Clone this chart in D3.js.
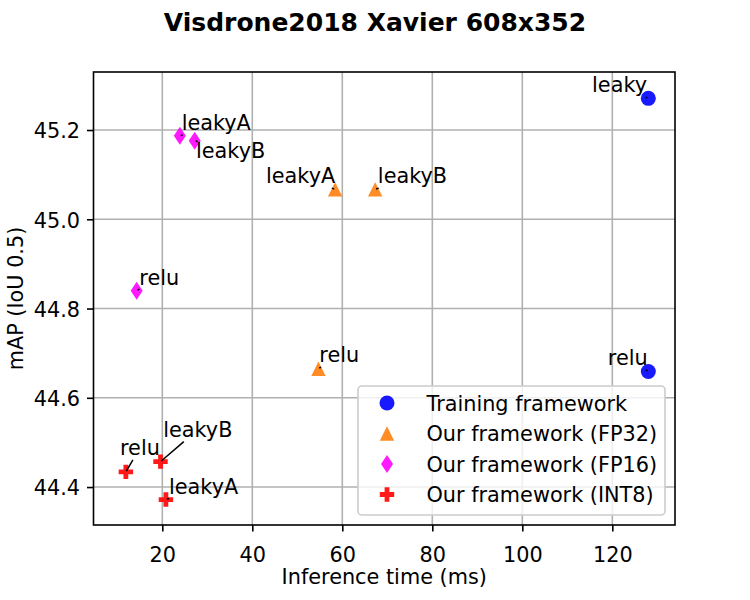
<!DOCTYPE html>
<html>
<head>
<meta charset="utf-8">
<script src="https://cdn.jsdelivr.net/npm/d3@7"></script>
<style>
  body { margin: 0; background: #fff; }
  svg text { font-family: "DejaVu Sans", sans-serif; fill: #000; }
</style>
</head>
<body>
<svg id="chart" width="750" height="600"></svg>
<script>
/* global d3 */

var seriesNames = ['Training framework', 'Our framework (FP32)', 'Our framework (FP16)', 'Our framework (INT8)'];
var xTicks = [20, 40, 60, 80, 100, 120];
var yTicks = [44.4, 44.6, 44.8, 45.0, 45.2];

// label, inference time (ms), mAP, and where the label text sits (ms, mAP)
var trainingLabels = ['leaky', 'relu'];
var trainingTime   = [128.0, 128.0];
var trainingMap    = [45.271, 44.659];
var trainingText   = [[115.5, 45.285], [119.0, 44.674]];

var fp32Labels = ['leakyA', 'leakyB', 'relu'];
var fp32Time   = [58.4, 67.3, 54.7];
var fp32Map    = [45.067, 45.067, 44.665];
var fp32Text   = [[43.05, 45.081], [67.9, 45.081], [54.9, 44.680]];

var fp16Labels = ['leakyA', 'leakyB', 'relu'];
var fp16Time   = [23.9, 27.2, 14.3];
var fp16Map    = [45.187, 45.176, 44.840];
var fp16Text   = [[24.3, 45.200], [27.5, 45.137], [14.9, 44.853]];

var int8Labels = ['relu', 'leakyB', 'leakyA'];
var int8Time   = [11.9, 19.6, 20.8];
var int8Map    = [44.434, 44.457, 44.372];
var int8Text   = [[10.6, 44.472], [20.2, 44.513], [21.5, 44.385]];

var svg = d3.select('svg#chart');
var box = { left: 93.5, right: 675, top: 72, bottom: 525 };
var fontSize = '20.8px';

var x = d3.scaleLinear().domain([4.71, 133.93]).range([box.left, box.right]);
var y = d3.scaleLinear().domain([44.315, 45.330]).range([box.bottom, box.top]);

function points(labels, time, map, text) {
  return labels.map(function (l, i) {
    return { label: l, t: time[i], m: map[i], tx: text[i][0], ty: text[i][1] };
  });
}

var series = [
  { name: seriesNames[0], color: '#0000ff', shape: 'circle',   pts: points(trainingLabels, trainingTime, trainingMap, trainingText) },
  { name: seriesNames[1], color: '#ff7f0e', shape: 'triangle', pts: points(fp32Labels, fp32Time, fp32Map, fp32Text) },
  { name: seriesNames[2], color: '#ff00ff', shape: 'diamond',  pts: points(fp16Labels, fp16Time, fp16Map, fp16Text) },
  { name: seriesNames[3], color: '#ff0000', shape: 'plus',     pts: points(int8Labels, int8Time, int8Map, int8Text) }
];

function markerPath(shape) {
  if (shape === 'circle')   { return d3.symbol(d3.symbolCircle, Math.PI * 7.5 * 7.5)(); }
  if (shape === 'triangle') { return 'M0,-7.2L-7.2,7.2L7.2,7.2Z'; }
  if (shape === 'diamond')  { return 'M0,-9L6,0L0,9L-6,0Z'; }
  var a = 7.2, b = 7.2 / 3;
  return 'M' + [[-b,-a],[b,-a],[b,-b],[a,-b],[a,b],[b,b],[b,a],[-b,a],[-b,b],[-a,b],[-a,-b],[-b,-b]].join('L') + 'Z';
}

// grid
var grid = svg.append('g').attr('stroke', '#b0b0b0').attr('stroke-width', 1.6);
grid.selectAll('.gx').data(xTicks).enter().append('line')
  .attr('x1', x).attr('x2', x).attr('y1', box.top).attr('y2', box.bottom);
grid.selectAll('.gy').data(yTicks).enter().append('line')
  .attr('y1', y).attr('y2', y).attr('x1', box.left).attr('x2', box.right);

// axes
var xAxis = svg.append('g')
  .attr('transform', 'translate(0,' + box.bottom + ')')
  .call(d3.axisBottom(x).tickValues(xTicks).tickFormat(d3.format('d')).tickSize(6.5).tickPadding(16).tickSizeOuter(0));
xAxis.selectAll('text').attr('dy', '0.71em');

var yAxis = svg.append('g')
  .attr('transform', 'translate(' + box.left + ',0)')
  .call(d3.axisLeft(y).tickValues(yTicks).tickFormat(d3.format('.1f')).tickSize(6.5).tickPadding(7).tickSizeOuter(0));
yAxis.selectAll('text').attr('dy', '0.38em');

svg.selectAll('.tick text').attr('font-size', fontSize).attr('fill', '#000');
svg.selectAll('.tick line').attr('stroke', '#000').attr('stroke-width', 1.6);
svg.selectAll('.domain').remove();

svg.append('rect')
  .attr('x', box.left).attr('y', box.top)
  .attr('width', box.right - box.left).attr('height', box.bottom - box.top)
  .attr('fill', 'none').attr('stroke', '#000').attr('stroke-width', 1.6);

// markers
series.forEach(function (s) {
  svg.append('g').selectAll('path').data(s.pts).enter().append('path')
    .attr('d', markerPath(s.shape))
    .attr('transform', function (d) { return 'translate(' + x(d.t) + ',' + y(d.m) + ')'; })
    .attr('fill', s.color).attr('fill-opacity', 0.9);
});

// annotations: text plus a short line from the text box to the point
series.forEach(function (s) {
  s.pts.forEach(function (d) {
    var t = svg.append('text')
      .attr('x', x(d.tx)).attr('y', y(d.ty))
      .attr('font-size', fontSize)
      .text(d.label);
    var bb = t.node().getBBox();
    var cx = bb.x + bb.width / 2, cy = bb.y + bb.height / 2;
    var px = x(d.t), py = y(d.m);
    var dx = px - cx, dy = py - cy;
    var len = Math.sqrt(dx * dx + dy * dy);
    var tx = dx === 0 ? Infinity : (bb.width / 2) / Math.abs(dx);
    var ty = dy === 0 ? Infinity : (bb.height / 2) / Math.abs(dy);
    var te = Math.min(tx, ty);
    var tEnd = 1 - 1 / len;
    if (te > tEnd - 2 / len) { te = tEnd - 2 / len; }
    svg.append('line')
      .attr('x1', cx + dx * te).attr('y1', cy + dy * te)
      .attr('x2', cx + dx * tEnd).attr('y2', cy + dy * tEnd)
      .attr('stroke', '#000').attr('stroke-width', 1.5);
  });
});

// legend
var legend = svg.append('g');
legend.append('rect')
  .attr('x', 358).attr('y', 386).attr('width', 307).attr('height', 129).attr('rx', 4)
  .attr('fill', '#fff').attr('fill-opacity', 0.8)
  .attr('stroke', '#cccccc').attr('stroke-width', 1.6);
var rows = legend.selectAll('.row').data(series).enter().append('g')
  .attr('transform', function (d, i) { return 'translate(387,' + (403 + i * 30.5) + ')'; });
rows.append('path')
  .attr('d', function (d) { return markerPath(d.shape); })
  .attr('fill', function (d) { return d.color; }).attr('fill-opacity', 0.9);
rows.append('text')
  .attr('x', 39.5).attr('y', 7.5)
  .attr('font-size', fontSize)
  .text(function (d) { return d.name; });

// titles
svg.append('text')
  .attr('x', 375).attr('y', 31)
  .attr('text-anchor', 'middle').attr('font-size', '25px').attr('font-weight', 'bold')
  .text('Visdrone2018 Xavier 608x352');
svg.append('text')
  .attr('x', (box.left + box.right) / 2).attr('y', 584)
  .attr('text-anchor', 'middle').attr('font-size', fontSize)
  .text('Inference time (ms)');
svg.append('text')
  .attr('transform', 'translate(22.5,' + (box.top + box.bottom) / 2 + ') rotate(-90)')
  .attr('text-anchor', 'middle').attr('font-size', fontSize)
  .text('mAP (IoU 0.5)');
</script>
</body>
</html>
